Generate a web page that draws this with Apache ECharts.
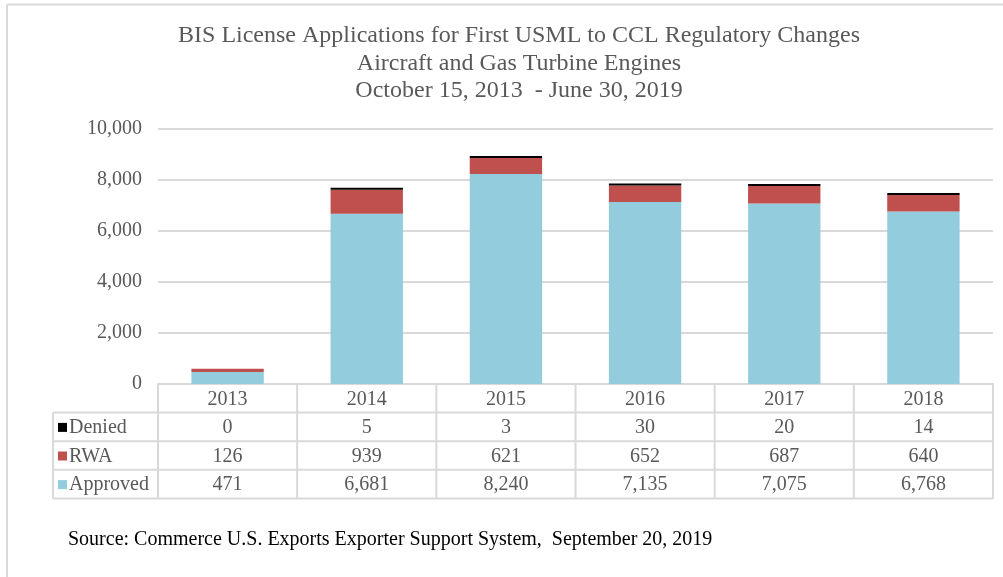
<!DOCTYPE html>
<html>
<head>
<meta charset="utf-8">
<script src="https://cdn.jsdelivr.net/npm/echarts@6/dist/echarts.min.js"></script>
<style>
html,body{margin:0;padding:0;background:#fff;}
#c{width:1003px;height:577px;}
</style>
</head>
<body>
<div id="c"></div>
<script>
const titleLines = ['BIS License Applications for First USML to CCL Regulatory Changes', 'Aircraft and Gas Turbine Engines', 'October 15, 2013  - June 30, 2019'];
const sourceText = 'Source: Commerce U.S. Exports Exporter Support System,  September 20, 2019';
const categories = ['2013', '2014', '2015', '2016', '2017', '2018'];
const denied = [0, 5, 3, 30, 20, 14];
const rwa = [126, 939, 621, 652, 687, 640];
const approved = [471, 6681, 8240, 7135, 7075, 6768];
const seriesNames = ['Denied', 'RWA', 'Approved'];
const seriesColors = ['#000000', '#C0504D', '#93CDDD'];
const yMin = 0, yMax = 10000, yStep = 2000;

const FONT = 'Liberation Serif';
const GRAY = '#595959';
const LINE = '#d9d9d9';

const chart = echarts.init(document.getElementById('c'), null, {renderer: 'canvas'});
const fmt = v => v.toLocaleString('en-US');

chart.setOption({
  animation: false,
  title: {
    text: titleLines.join('\n'),
    left: 514, top: 17, textAlign: 'center',
    textStyle: {fontFamily: FONT, fontSize: 24, fontWeight: 'normal', color: GRAY, lineHeight: 27.5}
  },
  grid: {left: 158, right: 10, top: 129, bottom: 193, containLabel: false},
  xAxis: {
    type: 'category', data: categories,
    axisLine: {show: true, lineStyle: {color: LINE, width: 2}},
    axisTick: {show: false},
    axisLabel: {show: false}
  },
  yAxis: {
    type: 'value', min: yMin, max: yMax, interval: yStep,
    axisLine: {show: false}, axisTick: {show: false},
    splitLine: {lineStyle: {color: LINE, width: 2}},
    axisLabel: {fontFamily: FONT, fontSize: 20, color: GRAY, margin: 16, formatter: v => fmt(v)}
  },
  series: [
    {name: seriesNames[2], type: 'bar', stack: 's', data: approved, barWidth: '52%', itemStyle: {color: seriesColors[2]}},
    {name: seriesNames[1], type: 'bar', stack: 's', data: rwa, itemStyle: {color: seriesColors[1]}},
    {name: seriesNames[0], type: 'bar', stack: 's', barMinHeight: 2,
     data: denied.map(v => v === 0 ? {value: 0, itemStyle: {opacity: 0}} : v),
     itemStyle: {color: seriesColors[0]}}
  ]
});

// Build data table under the axis from library coordinates
function buildTable() {
  const c0 = chart.convertToPixel({xAxisIndex: 0}, categories[0]);
  const c1 = chart.convertToPixel({xAxisIndex: 0}, categories[1]);
  const band = c1 - c0;
  const left = c0 - band / 2;
  const right = left + band * categories.length;
  const y0 = chart.convertToPixel({yAxisIndex: 0}, 0);
  const rowH = 28.6;
  const tableLeft = 53;
  const rows = [
    {name: seriesNames[0], color: seriesColors[0], vals: denied},
    {name: seriesNames[1], color: seriesColors[1], vals: rwa},
    {name: seriesNames[2], color: seriesColors[2], vals: approved}
  ];
  const bottom = y0 + rowH * (rows.length + 1);
  const g = [];
  const ls = {stroke: LINE, lineWidth: 2};
  const font = '20px "' + FONT + '"';
  // frame of whole chart
  g.push({type: 'line', shape: {x1: 7, y1: 4.5, x2: 1003, y2: 4.5}, style: ls, silent: true});
  g.push({type: 'line', shape: {x1: 7, y1: 4.5, x2: 7, y2: 577}, style: ls, silent: true});
  // horizontal lines
  for (let r = 1; r <= rows.length + 1; r++) {
    const y = y0 + rowH * r;
    g.push({type: 'line', shape: {x1: tableLeft, y1: y, x2: right, y2: y}, style: ls, silent: true});
  }
  // vertical lines
  for (let i = 0; i <= categories.length; i++) {
    const x = left + band * i;
    g.push({type: 'line', shape: {x1: x, y1: y0, x2: x, y2: bottom}, style: ls, silent: true});
  }
  g.push({type: 'line', shape: {x1: tableLeft, y1: y0 + rowH, x2: tableLeft, y2: bottom}, style: ls, silent: true});
  // header
  categories.forEach((cat, i) => {
    g.push({type: 'text', x: left + band * (i + 0.5), y: y0 + rowH / 2 + 1,
      style: {text: cat, font: font, fill: GRAY, align: 'center', verticalAlign: 'middle'}, silent: true});
  });
  rows.forEach((row, r) => {
    const cy = y0 + rowH * (r + 1.5) + 1;
    g.push({type: 'rect', shape: {x: tableLeft + 5, y: cy - 5, width: 9, height: 9}, style: {fill: row.color}, silent: true});
    g.push({type: 'text', x: tableLeft + 16, y: cy,
      style: {text: row.name, font: font, fill: GRAY, align: 'left', verticalAlign: 'middle'}, silent: true});
    row.vals.forEach((v, i) => {
      g.push({type: 'text', x: left + band * (i + 0.5), y: cy,
        style: {text: fmt(v), font: font, fill: GRAY, align: 'center', verticalAlign: 'middle'}, silent: true});
    });
  });
  g.push({type: 'text', x: 68, y: 540,
    style: {text: sourceText, font: '20px "' + FONT + '"', fill: '#000', align: 'left', verticalAlign: 'middle'}, silent: true});
  chart.setOption({graphic: g});
}
buildTable();
</script>
</body>
</html>
